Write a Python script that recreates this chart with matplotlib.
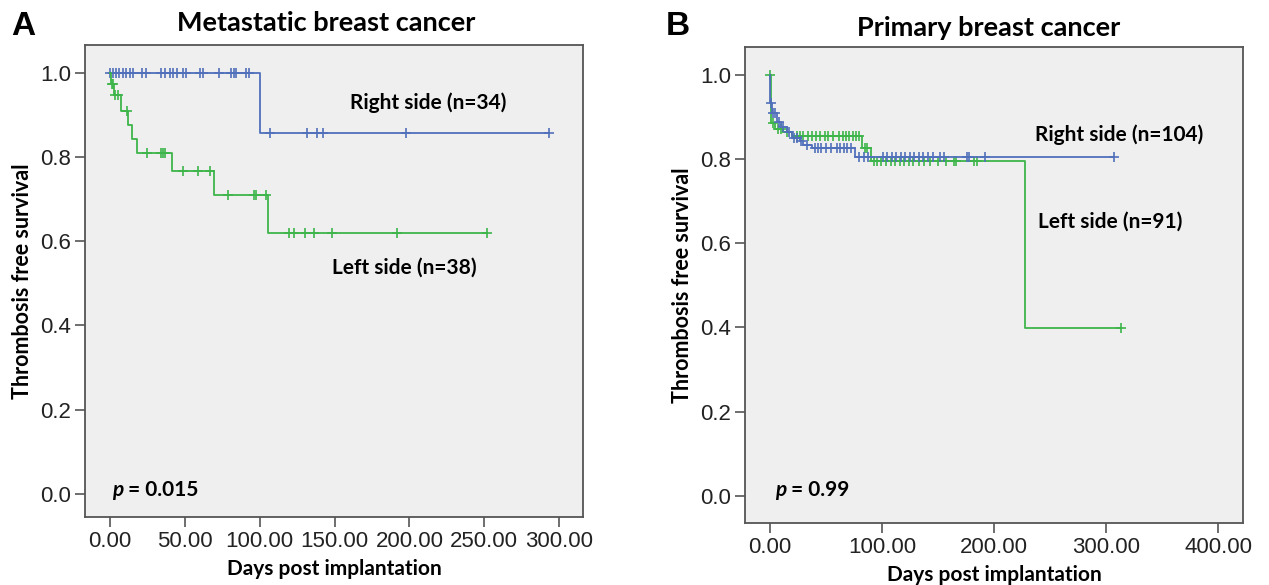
import numpy as np
import matplotlib
matplotlib.use('Agg')
import matplotlib.pyplot as plt

# ----------------------------------------------------------------------------------------------------------------------
# data (days, survival)

# A - metastatic, right side (n=34)
a_right_t = [0, 100]
a_right_s = [1.0, 0.857]
a_right_end = 293
a_right_cens = [0, 2, 4, 6, 8.5, 10.5, 13, 15.5, 21, 24, 34, 36.5, 40, 42, 45, 48.5, 51, 60, 62, 72.5,
                80.5, 83, 84, 90.5, 93, 106.5, 131.5, 138, 142.5, 198, 293]

# A - metastatic, left side (n=38)
a_left_t = [0, 0.5, 2.5, 7.3, 12.2, 14.4, 17.7, 41, 69.7, 105.5]
a_left_s = [1.0, 0.974, 0.947, 0.91, 0.876, 0.842, 0.81, 0.766, 0.709, 0.62]
a_left_end = 251.7
a_left_cens = [1, 2, 3.5, 5, 11, 24.3, 34, 35.5, 36.5, 49, 58.6, 66.8, 79, 96, 97.8, 104.4,
               119.4, 122.8, 130.5, 136, 148, 191.8, 251.7]

# B - primary, right side (n=104)
b_right_t = [0, 0.5, 2.4, 6, 10.4, 15, 19.4, 26.8, 30, 38, 76]
b_right_s = [1.0, 0.933, 0.909, 0.889, 0.877, 0.865, 0.85, 0.842, 0.834, 0.826, 0.806]
b_right_end = 307
b_right_cens = [1, 3, 4.5, 8, 12, 17, 22, 24, 28, 33, 40, 43, 46, 50, 55, 60, 63, 66, 69, 72, 80, 84, 88,
                101, 105, 109, 113, 117, 121, 125, 129, 133, 137, 141, 146, 152, 155, 176, 178, 192, 307]

# B - primary, left side (n=91)
b_left_t = [0, 0.8, 5, 12, 20, 82, 90, 228]
b_left_s = [1.0, 0.885, 0.872, 0.864, 0.855, 0.826, 0.796, 0.398]
b_left_end = 313
b_left_cens = [0, 3, 7, 10, 15, 24, 27, 30, 34, 38, 41, 45, 49, 52, 56, 62, 65, 68, 71, 74, 77, 80, 85, 87,
               93, 96, 99, 104, 108, 112, 116, 120, 124, 128, 133, 138, 143, 150, 157, 164, 166.5, 182.5, 185, 313]

# ----------------------------------------------------------------------------------------------------------------------
# style

blue = '#5170bb'
green = '#3db54a'
bg = '#efefef'
bold_font = 'Lato'
tick_font = 'Liberation Sans'


def km(ax, t, s, end, cens, color, z):
    t = np.array(t + [end])
    s = np.array(s + [s[-1]])
    ax.step(t, s, where='post', color=color, lw=1.3, zorder=z)
    cens = np.array(cens)
    idx = np.searchsorted(t[:-1], cens, side='right') - 1
    ax.plot(cens, s[idx], linestyle='none', marker='+', ms=7, mew=1.2, color=color, zorder=z + 1)


def style(ax, xticks, xlim, ylim):
    ax.set_facecolor(bg)
    for sp in ax.spines.values():
        sp.set_color('#555555')
        sp.set_linewidth(1.3)
    ax.set_xlim(xlim)
    ax.set_ylim(ylim)
    ax.set_xticks(xticks)
    ax.set_xticklabels(['{:.2f}'.format(x) for x in xticks], fontsize=16, family=tick_font, color='#222222')
    yt = [0, 0.2, 0.4, 0.6, 0.8, 1.0]
    ax.set_yticks(yt)
    ax.set_yticklabels(['{:.1f}'.format(y) for y in yt], fontsize=16, family=tick_font, color='#222222')
    ax.tick_params(direction='out', length=7, width=1.2, color='#555555', pad=3)
    ax.set_xlabel('Days post implantation', fontsize=15, fontweight='bold', family=bold_font, labelpad=5)
    ax.set_ylabel('Thrombosis free survival', fontsize=15.5, fontweight='bold', family=bold_font, labelpad=5)


def pvalue(ax, x, y, txt):
    p = ax.text(x, y, 'p', fontsize=15, fontweight='bold', fontstyle='italic', family=bold_font, va='center')
    ax.annotate(' = ' + txt, xy=(1, 0.5), xycoords=p, va='center', fontsize=15, fontweight='bold',
                family=bold_font)


fig = plt.figure(figsize=(12.69, 5.85), dpi=100)
ax1 = fig.add_axes([0.067, 0.1162, 0.3924, 0.807])
ax2 = fig.add_axes([0.587, 0.106, 0.3924, 0.8137])

# ----------------------------------------------------------------------------------------------------------------------
# panel A

style(ax1, [0, 50, 100, 150, 200, 250, 300], (-16.8, 316), (-0.055, 1.0665))
km(ax1, a_right_t, a_right_s, a_right_end, a_right_cens, blue, 3)
km(ax1, a_left_t, a_left_s, a_left_end, a_left_cens, green, 5)
ax1.text(160.6, 0.929, 'Right side (n=34)', fontsize=15, fontweight='bold', family=bold_font, va='center')
ax1.text(148, 0.537, 'Left side (n=38)', fontsize=15, fontweight='bold', family=bold_font, va='center')
pvalue(ax1, 1.3, 0.01, '0.015')
ax1.set_title('Metastatic breast cancer', fontsize=19.5, fontweight='bold', family=bold_font, pad=10, x=0.485)
fig.text(0.009, 0.94, 'A', fontsize=24, fontweight='bold', family='Liberation Sans')

# ----------------------------------------------------------------------------------------------------------------------
# panel B

style(ax2, [0, 100, 200, 300, 400], (-22.2, 422), (-0.065, 1.0665))
km(ax2, b_left_t, b_left_s, b_left_end, b_left_cens, green, 3)
km(ax2, b_right_t, b_right_s, b_right_end, b_right_cens, blue, 5)
ax2.text(237, 0.857, 'Right side (n=104)', fontsize=15, fontweight='bold', family=bold_font, va='center')
ax2.text(239, 0.651, 'Left side (n=91)', fontsize=15, fontweight='bold', family=bold_font, va='center')
pvalue(ax2, 4.5, 0.014, '0.99')
ax2.set_title('Primary breast cancer', fontsize=19.5, fontweight='bold', family=bold_font, pad=8, x=0.49)
fig.text(0.525, 0.94, 'B', fontsize=24, fontweight='bold', family='Liberation Sans')

fig.savefig('out.png', dpi=100)
